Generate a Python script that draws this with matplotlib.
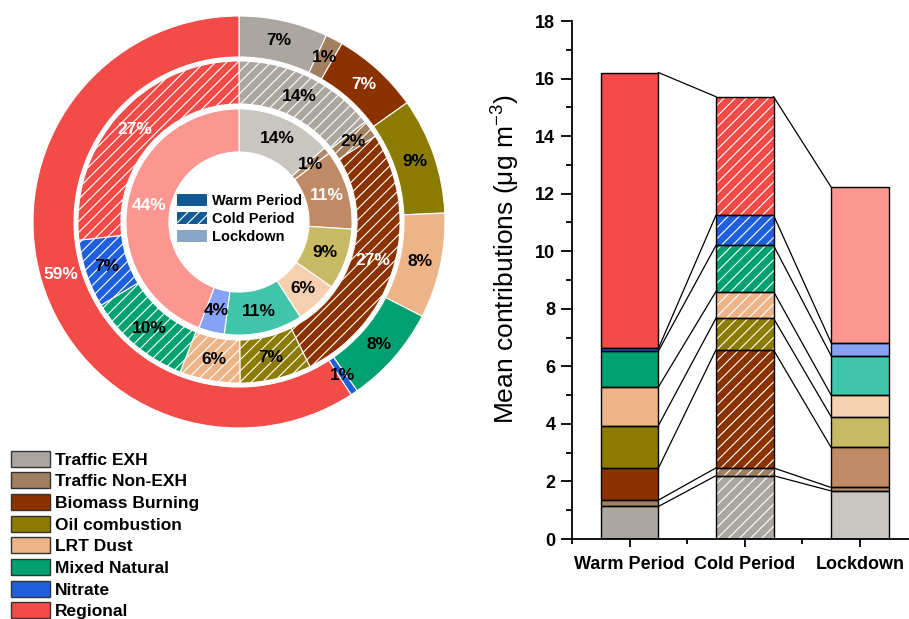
import matplotlib
matplotlib.use("Agg")
import matplotlib.pyplot as plt
import numpy as np
from matplotlib.patches import Patch
from matplotlib.ticker import MultipleLocator, FixedLocator

plt.rcParams['font.family'] = ['Liberation Sans', 'DejaVu Sans']
plt.rcParams['mathtext.fontset'] = 'custom'
plt.rcParams['mathtext.rm'] = 'Liberation Sans'
plt.rcParams['mathtext.it'] = 'Liberation Sans:italic'
plt.rcParams['hatch.linewidth'] = 0.8

# ---- data (µg m-3) ----
sources = ['Traffic EXH', 'Traffic Non-EXH', 'Biomass Burning', 'Oil combustion',
           'LRT Dust', 'Mixed Natural', 'Nitrate', 'Regional']
periods = ['Warm Period', 'Cold Period', 'Lockdown']
warm = [1.13, 0.22, 1.11, 1.48, 1.34, 1.25, 0.09, 9.59]
cold = [2.20, 0.27, 4.10, 1.10, 0.93, 1.60, 1.05, 4.12]
lockdown = [1.67, 0.12, 1.39, 1.07, 0.75, 1.37, 0.45, 5.41]

base_colors = ['#aba6a0', '#a0805f', '#8a3300', '#8b7b00',
               '#ecb487', '#00a070', '#1e5fdc', '#f24b48']
lockdown_colors = ['#c9c6c2', '#b08a6c', '#c08a66', '#c8b964',
                   '#f5d0b0', '#40c4aa', '#86a2f5', '#fc9690']
white_text = {'Biomass Burning', 'Regional'}
cold_hatch = '///'

W, H = 909, 619
fig = plt.figure(figsize=(W / 100, H / 100), dpi=100)


def px_axes(x0, y0, x1, y1):
    return fig.add_axes([x0 / W, 1 - y1 / H, (x1 - x0) / W, (y1 - y0) / H])


# ---- nested donut ----
cx, cy, R = 239, 222, 206
pie_ax = px_axes(cx - R, cy - R, cx + R, cy + R)
rings = [(warm, base_colors, None, 1.0, 0.199),
         (cold, base_colors, cold_hatch, 0.782, 0.209),
         (lockdown, lockdown_colors, None, 0.549, 0.209)]
for vals, cols, hatch, r, w in rings:
    wedges, _ = pie_ax.pie(vals, radius=r, colors=cols, startangle=90,
                           counterclock=False,
                           wedgeprops=dict(width=w, edgecolor='white', linewidth=0.8))
    total = sum(vals)
    for wd, v, src in zip(wedges, vals, sources):
        if hatch:
            wd.set_hatch(hatch)
        ang = np.deg2rad((wd.theta1 + wd.theta2) / 2)
        rr = r - w / 2
        pie_ax.text(rr * np.cos(ang), rr * np.sin(ang), f'{round(100 * v / total)}%',
                    ha='center', va='center', fontsize=12.5, fontweight='bold',
                    color='white' if src in white_text else 'black')
pie_ax.set_xlim(-1, 1)
pie_ax.set_ylim(-1, 1)
pie_ax.set_aspect('equal')
pie_ax.axis('off')

period_handles = [
    Patch(facecolor='#135a95', edgecolor='white', linewidth=0),
    Patch(facecolor='#135a95', edgecolor='white', linewidth=0, hatch=cold_hatch),
    Patch(facecolor='#8aa6c6', edgecolor='white', linewidth=0),
]
fig.legend(period_handles, periods, loc='center',
           bbox_to_anchor=(240 / W, 1 - 219 / H), bbox_transform=fig.transFigure,
           frameon=False, borderpad=0, prop={'weight': 'bold', 'size': 10.5},
           handlelength=2.05, handleheight=0.95, handletextpad=0.35, labelspacing=0.25)

source_handles = [Patch(facecolor=c, edgecolor='#333333', linewidth=1) for c in base_colors]
fig.legend(source_handles, sources, loc='upper left',
           bbox_to_anchor=(2 / W, 1 - 442 / H), bbox_transform=fig.transFigure,
           frameon=False, borderpad=0, prop={'weight': 'bold', 'size': 12.5},
           handlelength=2.25, handleheight=1.05, handletextpad=0.3, labelspacing=0.27)

# ---- stacked bars ----
ax = px_axes(572, 21, 917.5, 539)
x = np.arange(1, 4)
bw = 0.5
data = [warm, cold, lockdown]
colsets = [base_colors, base_colors, lockdown_colors]
hatches = [None, cold_hatch, None]
tops = []
for xi, vals, cols, hatch in zip(x, data, colsets, hatches):
    bottoms = np.concatenate([[0], np.cumsum(vals)[:-1]])
    ax.bar([xi] * len(vals), vals, bw, bottom=bottoms, color=cols,
           edgecolor='white', linewidth=0, hatch=hatch, zorder=2)
    ax.bar([xi] * len(vals), vals, bw, bottom=bottoms, fill=False,
           edgecolor='black', linewidth=1.0, zorder=3)
    tops.append(np.cumsum(vals))

for i in range(len(x) - 1):
    for a, b in zip(tops[i], tops[i + 1]):
        ax.plot([x[i] + bw / 2, x[i + 1] - bw / 2], [a, b], color='black',
                linewidth=0.9, zorder=1)

ax.set_xlim(0.5, 3.5)
ax.set_ylim(0, 18)
ax.set_xticks(x)
ax.set_xticklabels(periods, fontsize=13, fontweight='bold')
ax.xaxis.set_minor_locator(FixedLocator([0.5, 1.5, 2.5, 3.5]))
ax.yaxis.set_major_locator(MultipleLocator(2))
ax.yaxis.set_minor_locator(MultipleLocator(1))
for lab in ax.get_yticklabels():
    lab.set_fontweight('bold')
    lab.set_fontsize(13)
ax.tick_params(axis='y', which='major', direction='out', length=8, width=1.3, pad=4)
ax.tick_params(axis='y', which='minor', direction='out', length=4.5, width=1.3)
ax.tick_params(axis='x', which='major', direction='out', length=5.5, width=1.3, pad=7)
ax.tick_params(axis='x', which='minor', direction='out', length=3.5, width=1.3)
ax.spines['top'].set_visible(False)
ax.spines['right'].set_visible(False)
ax.spines['left'].set_linewidth(1.3)
ax.spines['bottom'].set_linewidth(1.3)
ax.set_ylabel('Mean contributions (μg m$^{-3}$)', fontsize=19)
ax.yaxis.set_label_coords(-0.145, 0.54)

fig.savefig('out.png', dpi=100)
